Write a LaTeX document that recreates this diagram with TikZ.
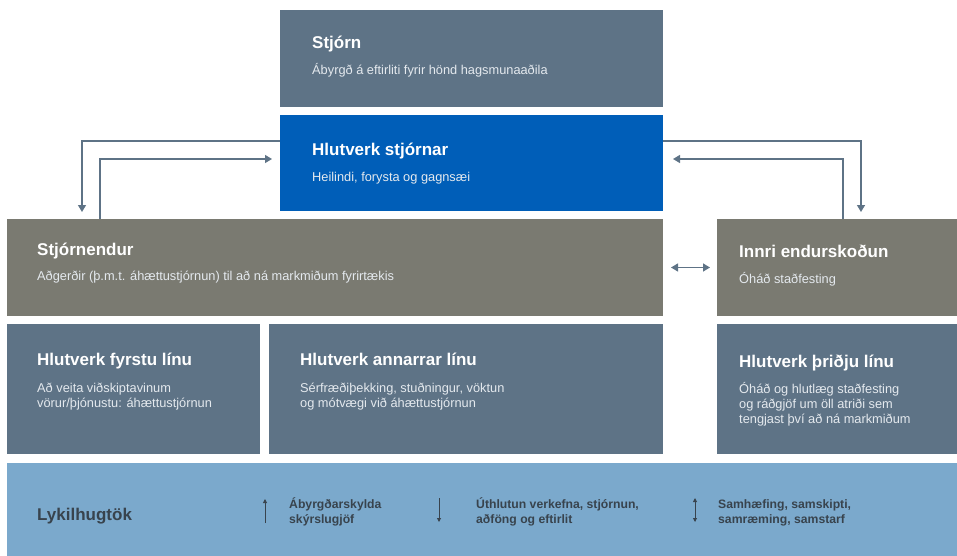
\documentclass[tikz,border=0pt]{standalone}
\usepackage{fontspec}
\setmainfont{Liberation Sans}
\usetikzlibrary{arrows.meta,calc}

\definecolor{slate}{HTML}{5E7386}
\definecolor{boardblue}{HTML}{005EB8}
\definecolor{mgmtgray}{HTML}{7A7A71}
\definecolor{keyblue}{HTML}{7BA9CC}
\definecolor{keytext}{HTML}{38434D}
\definecolor{subtext}{HTML}{E4E9EE}

\begin{document}
\begin{tikzpicture}[x=1pt,y=-1pt,>={Triangle[length=7pt,width=8pt]},
box/.style={rectangle, inner sep=0pt, outer sep=0pt},
slatebox/.style={box, fill=slate},
bluebox/.style={box, fill=boardblue},
graybox/.style={box, fill=mgmtgray},
keybox/.style={box, fill=keyblue},
head/.style={anchor=base west, inner sep=0pt, text=white, font=\fontsize{17}{20}\selectfont\bfseries},
sub/.style={anchor=base west, inner sep=0pt, text=subtext, align=left, font=\fontsize{12.8}{15}\selectfont},
keyhead/.style={anchor=base west, inner sep=0pt, text=keytext, font=\fontsize{17}{20}\selectfont\bfseries},
keysub/.style={anchor=base west, inner sep=0pt, text=keytext, align=left, font=\fontsize{12.2}{15}\selectfont\bfseries},
flow/.style={draw=slate, line width=1.4pt},
keyflow/.style={draw=keytext, line width=0.9pt, >={Triangle[length=4pt,width=4pt]}}]

\useasboundingbox (0,0) rectangle (957,556);

% boxes
\draw (471.5,58.5) node[slatebox, minimum width=383, minimum height=97] (Stjorn) {};
\draw (471.5,163) node[bluebox, minimum width=383, minimum height=96] (HStj) {};
\draw (335,267.5) node[graybox, minimum width=656, minimum height=97] (Stjn) {};
\draw (837,267.5) node[graybox, minimum width=240, minimum height=97] (Innri) {};
\draw (133.5,389) node[slatebox, minimum width=253, minimum height=130] (Lina1) {};
\draw (466,389) node[slatebox, minimum width=394, minimum height=130] (Lina2) {};
\draw (837,389) node[slatebox, minimum width=240, minimum height=130] (Lina3) {};
\draw (482,509.5) node[keybox, minimum width=950, minimum height=93] (Lykil) {};

% texts (multi-line texts sit on their last baseline)
\draw (312,49) node[head] (StjornH) {Stjórn};
\draw (312,75) node[sub] (StjornS) {Ábyrgð á eftirliti fyrir hönd hagsmunaaðila};
\draw (312,156) node[head] (HStjH) {Hlutverk stjórnar};
\draw (312,182) node[sub] (HStjS) {Heilindi, forysta og gagnsæi};
\draw (37,255) node[head] (StjnH) {Stjórnendur};
\draw (37,280) node[sub] (StjnS) {Aðgerðir (þ.m.t. áhættustjórnun) til að ná markmiðum fyrirtækis};
\draw (739,257) node[head] (InnriH) {Innri endurskoðun};
\draw (739,283) node[sub] (InnriS) {Óháð staðfesting};
\draw (37,365) node[head] (Lina1H) {Hlutverk fyrstu línu};
\draw (37,407) node[sub] (Lina1S) {Að veita viðskiptavinum\\vörur/þjónustu: áhættustjórnun};
\draw (300,365) node[head] (Lina2H) {Hlutverk annarrar línu};
\draw (300,407) node[sub] (Lina2S) {Sérfræðiþekking, stuðningur, vöktun\\og mótvægi við áhættustjórnun};
\draw (739,367) node[head] (Lina3H) {Hlutverk þriðju línu};
\draw (739,423) node[sub] (Lina3S) {Óháð og hlutlæg staðfesting\\og ráðgjöf um öll atriði sem\\tengjast því að ná markmiðum};
\draw (37,520) node[keyhead] (LykilH) {Lykilhugtök};
\draw (289,523) node[keysub] (Key1) {Ábyrgðarskylda\\skýrslugjöf};
\draw (476,523) node[keysub] (Key2) {Úthlutun verkefna, stjórnun,\\aðföng og eftirlit};
\draw (718,523) node[keysub] (Key3) {Samhæfing, samskipti,\\samræming, samstarf};

% key arrows
\coordinate (K1a) at (265,523);
\coordinate (K1b) at (265,499);
\coordinate (K2a) at (439,498);
\coordinate (K2b) at (439,522);
\coordinate (K3a) at (695,498);
\coordinate (K3b) at (695,522);

% connectors
\draw[flow,->] ([yshift=22pt]HStj.west) -| ([xshift=75pt,yshift=7pt]Stjn.north west);
\draw[flow,->] ([xshift=93pt]Stjn.north west) |- ([xshift=-8pt,yshift=4pt]HStj.west);
\draw[flow,->] ([yshift=22pt]HStj.east) -| ([xshift=144pt,yshift=7pt]Innri.north west);
\draw[flow,->] ([xshift=126pt]Innri.north west) |- ([xshift=10pt,yshift=4pt]HStj.east);
\draw[flow,<->] ([xshift=8pt]Stjn.east) -- ([xshift=-7pt]Innri.west);

\draw[keyflow,->] (K1a) -- (K1b);
\draw[keyflow,->] (K2a) -- (K2b);
\draw[keyflow,<->] (K3a) -- (K3b);

\end{tikzpicture}
\end{document}
